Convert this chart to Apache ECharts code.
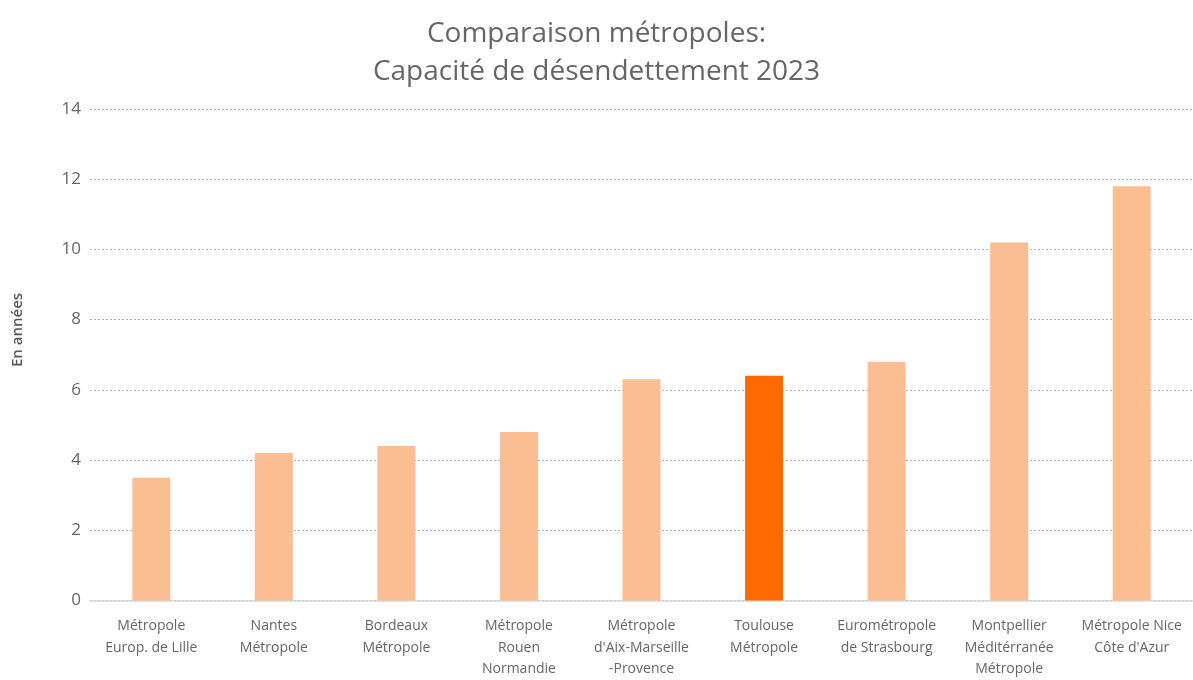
<!DOCTYPE html>
<html>
<head>
<meta charset="utf-8">
<script src="https://cdn.jsdelivr.net/npm/echarts@6/dist/echarts.min.js"></script>
<style>html,body{margin:0;padding:0;background:#fff}#c{width:1193px;height:680px}</style>
</head>
<body>
<div id="c"></div>
<script>
const categories = [
  "Métropole\nEurop. de Lille",
  "Nantes\nMétropole",
  "Bordeaux\nMétropole",
  "Métropole\nRouen\nNormandie",
  "Métropole\nd'Aix-Marseille\n-Provence",
  "Toulouse\nMétropole",
  "Eurométropole\nde Strasbourg",
  "Montpellier\nMéditérranée\nMétropole",
  "Métropole Nice\nCôte d'Azur"
];
const values = [3.5, 4.2, 4.4, 4.8, 6.3, 6.4, 6.8, 10.2, 11.8];
const highlightIndex = 5;
const titleLines = ["Comparaison métropoles:", "Capacité de désendettement 2023"];
const yAxisName = "En années";

const lightColor = "#FBBE93";
const darkColor = "#FF6A00";
const font = "'Open Sans', sans-serif";

const chart = echarts.init(document.getElementById('c'));
chart.setOption({
  animation: false,
  title: {
    text: titleLines.join("\n"),
    left: 'center',
    top: 10,
    textStyle: { fontFamily: font, fontSize: 28, fontWeight: 'normal', color: '#666666', lineHeight: 38 }
  },
  graphic: [{
    type: 'text',
    x: 18, y: 330,
    rotation: Math.PI / 2,
    style: {
      text: yAxisName,
      fontFamily: font, fontSize: 15, fontWeight: 600, fill: '#595959',
      align: 'center', verticalAlign: 'middle'
    }
  }],
  grid: { left: 90, right: 0, top: 109, bottom: 78, containLabel: false },
  xAxis: {
    type: 'category',
    data: categories,
    axisLine: { lineStyle: { color: '#d9d9d9', width: 1.5 } },
    axisTick: { show: false },
    axisLabel: { fontFamily: font, fontSize: 14, color: '#666666', lineHeight: 21.5, margin: 15, interval: 0 }
  },
  yAxis: {
    type: 'value',
    min: 0, max: 14, interval: 2,
    axisLine: { show: false },
    axisTick: { show: false },
    axisLabel: { fontFamily: font, fontSize: 17, color: '#666666', margin: 9 },
    splitLine: { lineStyle: { color: '#b0b0b0', type: [2, 2], width: 1 } }
  },
  series: [{
    type: 'bar',
    barWidth: '31%',
    data: values.map((v, i) => ({ value: v, itemStyle: { color: i === highlightIndex ? darkColor : lightColor } }))
  }]
});
</script>
</body>
</html>
